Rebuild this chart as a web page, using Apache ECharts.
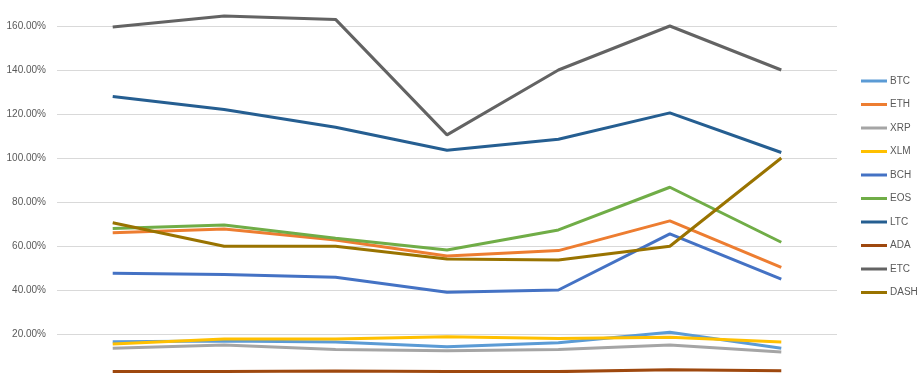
<!DOCTYPE html>
<html>
<head>
<meta charset="utf-8">
<script src="https://cdn.jsdelivr.net/npm/echarts@6/dist/echarts.min.js"></script>
<style>html,body{margin:0;padding:0;background:#fff;}#c{width:922px;height:373px;}</style>
</head>
<body>
<div id="c"></div>
<script>
const categories = ['1', '2', '3', '4', '5', '6', '7'];
const seriesNames = ['BTC', 'ETH', 'XRP', 'XLM', 'BCH', 'EOS', 'LTC', 'ADA', 'ETC', 'DASH'];
const BTC  = [16.5, 16.8, 16.4, 14.2, 16.0, 20.8, 13.5];
const ETH  = [66.0, 67.7, 62.7, 55.5, 57.9, 71.4, 50.3];
const XRP  = [13.5, 15.0, 13.0, 12.4, 13.0, 15.0, 11.8];
const XLM  = [15.5, 17.7, 17.7, 18.8, 17.9, 18.5, 16.4];
const BCH  = [47.6, 47.1, 45.8, 39.0, 40.0, 65.5, 44.9];
const EOS  = [68.0, 69.5, 63.5, 58.2, 67.3, 86.7, 61.7];
const LTC  = [128.0, 122.0, 114.0, 103.5, 108.5, 120.5, 102.5];
const ADA  = [2.9, 3.0, 3.2, 3.0, 2.9, 3.7, 3.3];
const ETC  = [159.5, 164.5, 163.0, 110.5, 140.0, 160.0, 140.0];
const DASH = [70.6, 59.9, 59.9, 54.1, 53.6, 59.9, 100.0];
const yTickLabels = ['0.00%', '20.00%', '40.00%', '60.00%', '80.00%', '100.00%', '120.00%', '140.00%', '160.00%', '180.00%'];

const dataMap = {BTC, ETH, XRP, XLM, BCH, EOS, LTC, ADA, ETC, DASH};
const colors = ['#5B9BD5', '#ED7D31', '#A5A5A5', '#FFC000', '#4472C4', '#70AD47', '#255E91', '#9E480E', '#636363', '#997300'];

const chart = echarts.init(document.getElementById('c'), null, {renderer: 'canvas'});
chart.setOption({
  animation: false,
  color: colors,
  textStyle: {fontFamily: 'Liberation Sans'},
  grid: {left: 57, right: 85, top: -18, bottom: -5, containLabel: false, outerBoundsMode: 'none'},
  legend: {
    orient: 'vertical',
    left: 856,
    top: 71,
    icon: 'rect',
    itemWidth: 26,
    itemHeight: 3,
    itemGap: 13.5,
    textStyle: {fontSize: 10, color: '#595959', fontFamily: 'Liberation Sans', padding: [0, 0, 0, -2]},
    data: seriesNames
  },
  xAxis: {
    type: 'category',
    data: categories,
    boundaryGap: true,
    axisLine: {show: false},
    axisTick: {show: false},
    axisLabel: {show: false}
  },
  yAxis: {
    type: 'value',
    min: 0,
    max: 180,
    interval: 20,
    axisLine: {show: false},
    axisTick: {show: false},
    axisLabel: {
      margin: 11,
      fontSize: 10,
      color: '#595959',
      fontFamily: 'Liberation Sans',
      formatter: function (v) { return yTickLabels[Math.round(v / 20)]; }
    },
    splitLine: {lineStyle: {color: '#D9D9D9', width: 1}}
  },
  series: seriesNames.map(function (n) {
    return {
      name: n,
      type: 'line',
      data: dataMap[n],
      showSymbol: false,
      symbol: 'none',
      lineStyle: {width: 3},
      emphasis: {disabled: true}
    };
  })
});
</script>
</body>
</html>
